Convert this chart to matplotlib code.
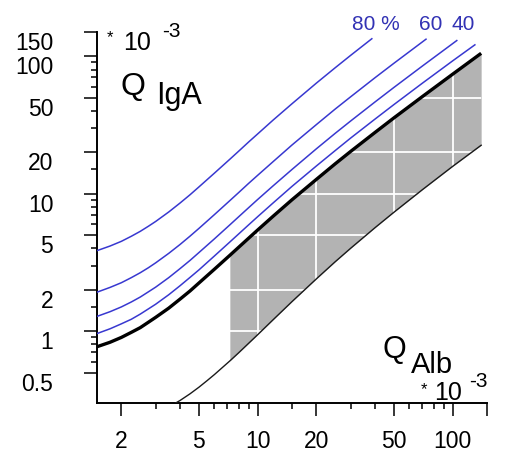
import matplotlib
matplotlib.use("Agg")
import matplotlib.pyplot as plt

W, H = 514, 461

# ── Data (Q values in units of 10^-3) ────────────────────────────────────────
# upper reference limit (thick black)
qlim_x = [1.5, 1.75, 2, 2.25, 2.5, 2.75, 3, 3.5, 4, 4.5, 5, 6, 7.2, 8, 9, 10, 12, 15,
          20, 25, 30, 40, 50, 70, 100, 140]
qlim_y = [0.77, 0.83, 0.90, 0.98, 1.06, 1.16, 1.26, 1.47, 1.71, 1.96, 2.24, 2.82,
          3.56, 4.08, 4.75, 5.44, 6.85, 9.03, 12.7, 16.5, 20.3, 27.9, 35.6, 50.9,
          74.0, 105]

# lower reference limit (thin black)
qlow_x = [3.8, 4, 4.5, 5, 5.5, 6, 7.2, 8, 9, 10, 12, 15, 20, 25, 30, 40, 50, 70,
          100, 140]
qlow_y = [0.30, 0.313, 0.350, 0.391, 0.436, 0.483, 0.607, 0.697, 0.817, 0.942,
          1.21, 1.64, 2.40, 3.20, 4.01, 5.66, 7.33, 10.7, 15.8, 22.5]

# intrathecal fraction lines (blue)
if20_x = [1.5, 1.75, 2, 2.25, 2.5, 2.75, 3, 3.5, 4, 4.5, 5, 6, 7.2, 8, 9, 10, 12, 15,
          20, 25, 30, 40, 50, 70, 100, 130]
if20_y = [0.96, 1.04, 1.13, 1.22, 1.33, 1.45, 1.57, 1.84, 2.14, 2.46, 2.79, 3.52,
          4.45, 5.10, 5.94, 6.80, 8.56, 11.3, 15.9, 20.6, 25.4, 34.9, 44.5, 63.7,
          92.5, 121]
if40_x = [1.5, 1.75, 2, 2.25, 2.5, 2.75, 3, 3.5, 4, 4.5, 5, 6, 7.2, 8, 9, 10, 12, 15,
          20, 25, 30, 40, 50, 70, 105]
if40_y = [1.28, 1.385, 1.50, 1.63, 1.77, 1.93, 2.09, 2.45, 2.85, 3.27, 3.73, 4.69,
          5.93, 6.80, 7.92, 9.07, 11.4, 15.0, 21.2, 27.5, 33.8, 46.5, 59.3, 84.9, 130]
if60_x = [1.5, 1.75, 2, 2.25, 2.5, 2.75, 3, 3.5, 4, 4.5, 5, 6, 7.2, 8, 9, 10, 12, 15,
          20, 25, 30, 40, 50, 73]
if60_y = [1.92, 2.08, 2.25, 2.45, 2.66, 2.89, 3.14, 3.68, 4.27, 4.91, 5.59, 7.04,
          8.90, 10.2, 11.9, 13.6, 17.1, 22.6, 31.8, 41.3, 50.7, 69.8, 88.9, 133]
if80_x = [1.5, 1.75, 2, 2.25, 2.5, 2.75, 3, 3.5, 4, 4.5, 5, 6, 7.2, 8, 9, 10, 12, 15,
          20, 25, 30, 38.5]
if80_y = [3.85, 4.16, 4.50, 4.90, 5.32, 5.79, 6.28, 7.36, 8.55, 9.82, 11.2, 14.1,
          17.8, 20.4, 23.8, 27.2, 34.3, 45.1, 63.7, 82.5, 101.5, 134]

shade_start = 7.2   # left edge of grey reference area

x_major = [2, 5, 10, 20, 50, 100, 150]
x_major_labels = ["2", "5", "10", "20", "50", "100", ""]
x_minor = [3, 4, 6, 7, 8, 9, 15, 30, 40, 60, 70, 80, 90]
y_major = [0.5, 1, 2, 5, 10, 20, 50, 100, 150]
y_major_labels = ["0.5", "1", "2", "5", "10", "20", "50", "100", "150"]
y_minor = [0.6, 0.7, 0.8, 0.9, 1.5, 3, 4, 6, 7, 8, 9, 15, 30, 40, 60, 70, 80, 90]

grid_x = [10, 20, 50, 100]
grid_y = [1, 2, 5, 10, 20, 50]

# ── Style ─────────────────────────────────────────────────────────────────────
plt.rcParams["font.family"] = ["Liberation Sans", "DejaVu Sans"]
blue = "#3838d0"
blue_txt = "#3232b4"
grey = "#b3b3b3"

fig = plt.figure(figsize=(W / 100, H / 100), dpi=100)
ax = fig.add_axes([97 / W, 58 / H, 390 / W, 371 / H])
ax.set_xscale("log")
ax.set_yscale("log")
ax.set_xlim(1.5, 150)
ax.set_ylim(0.3, 150)

# grey reference area with white grid inside it
i_hi = qlim_x.index(shade_start)
i_lo = qlow_x.index(shade_start)
shade = ax.fill_between(qlim_x[i_hi:], qlow_y[i_lo:], qlim_y[i_hi:],
                        color=grey, lw=0, zorder=1)
clip = shade.get_paths()[0]
for v in grid_x:
    ln = ax.axvline(v, color="white", lw=1.3, zorder=2)
    ln.set_clip_path(clip, ax.transData)
for v in grid_y:
    ln = ax.axhline(v, color="white", lw=1.3, zorder=2)
    ln.set_clip_path(clip, ax.transData)

ax.plot(qlow_x, qlow_y, color="#1a1a1a", lw=1.0, zorder=3)
for xs, ys in [(if20_x, if20_y), (if40_x, if40_y), (if60_x, if60_y), (if80_x, if80_y)]:
    ax.plot(xs, ys, color=blue, lw=1.1, zorder=3)
ax.plot(qlim_x, qlim_y, color="black", lw=2.4, zorder=4, solid_capstyle="butt")

# ── Axes ──────────────────────────────────────────────────────────────────────
for s in ["top", "right"]:
    ax.spines[s].set_visible(False)
for s in ["left", "bottom"]:
    ax.spines[s].set_linewidth(1.4)

ax.set_xticks(x_major)
ax.set_xticklabels(x_major_labels)
ax.set_xticks(x_minor, minor=True)
ax.set_xticklabels([], minor=True)
ax.set_yticks(y_major)
ax.set_yticklabels(y_major_labels)
ax.set_yticks(y_minor, minor=True)
ax.set_yticklabels([], minor=True)

ax.tick_params(which="major", direction="out", length=9.5, width=1.1, labelsize=16.5)
ax.tick_params(which="minor", direction="out", length=4.5, width=1.1)
ax.tick_params(axis="x", which="major", pad=10)
ax.tick_params(axis="y", which="major", pad=22)
for lab in ax.get_yticklabels():
    lab.set_verticalalignment("top")


def ftext(x, y, s, size, **kw):
    fig.text(x / W, 1 - y / H, s, fontsize=size, ha="left", va="baseline", **kw)


# top-left label
ftext(107, 42, "*", 12)
ftext(123, 50, "10", 18)
ftext(162, 37, "-3", 15)
ftext(121, 95, "Q", 23)
ftext(156, 104, "IgA", 22)

# bottom-right label
ftext(383, 358, "Q", 22)
ftext(411, 373, "Alb", 21)
ftext(421, 394, "*", 12)
ftext(434, 400, "10", 18)
ftext(469, 387, "-3", 15)

# percentage labels
ftext(352, 30, "80 %", 15, color=blue_txt)
ftext(419, 30, "60", 15, color=blue_txt)
ftext(452, 30, "40", 15, color=blue_txt)

fig.savefig("out.png", dpi=100)
